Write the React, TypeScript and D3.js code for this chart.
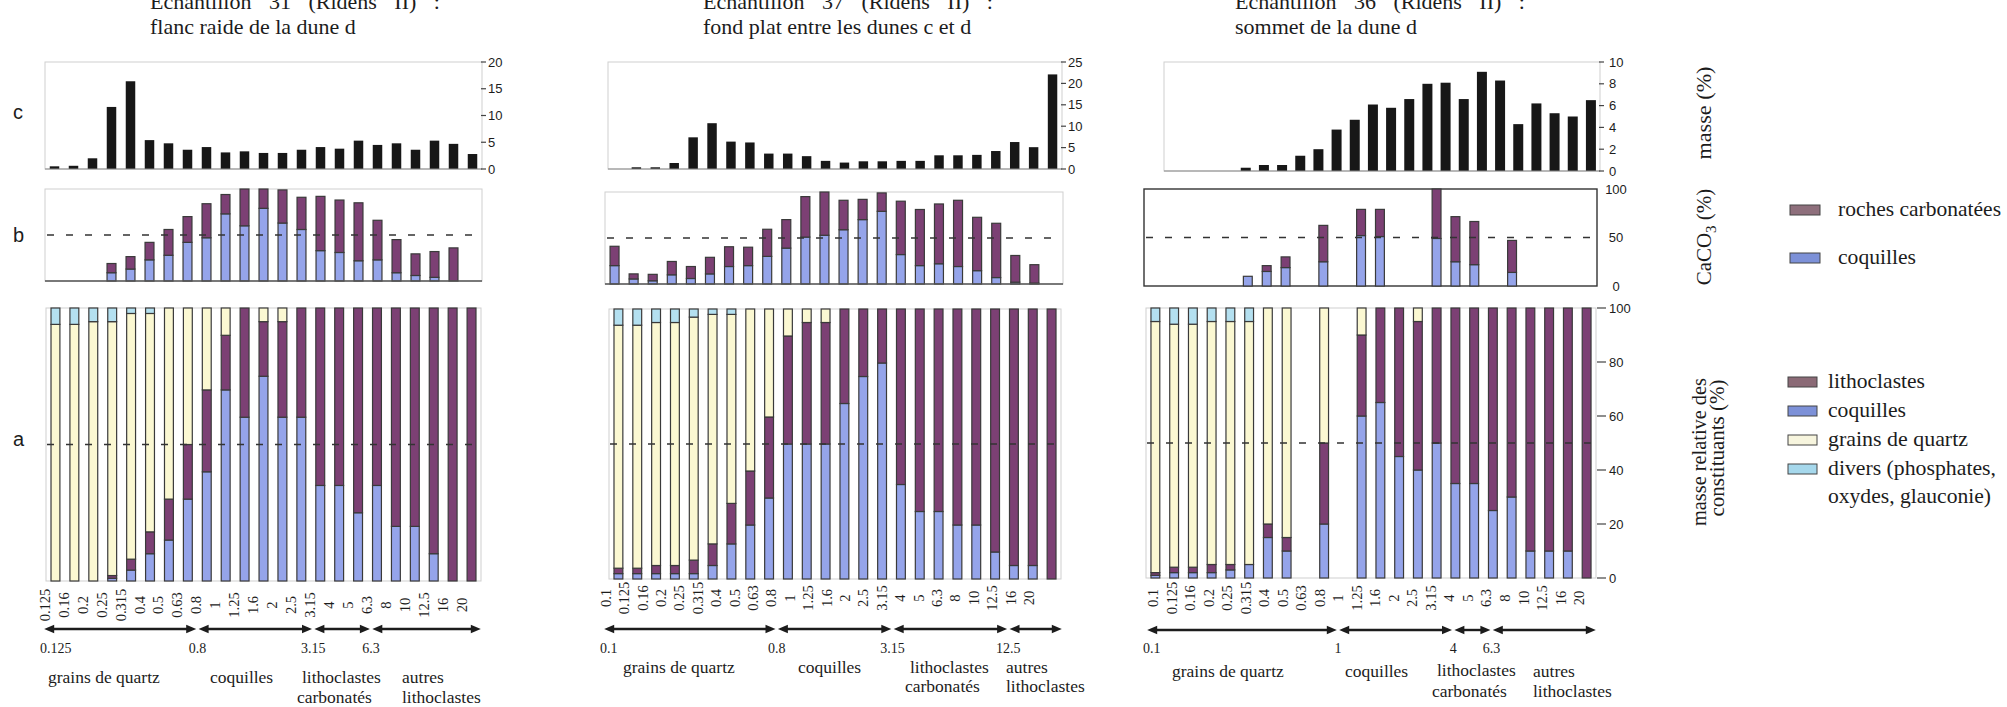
import React from "react";
import * as d3 from "d3";

// ---------------- DATA ----------------
const classes31 = ["0.125", "0.16", "0.2", "0.25", "0.315", "0.4", "0.5", "0.63", "0.8", "1", "1.25", "1.6", "2", "2.5", "3.15", "4", "5", "6.3", "8", "10", "12.5", "16", "20"];
const classes37 = ["0.1", "0.125", "0.16", "0.2", "0.25", "0.315", "0.4", "0.5", "0.63", "0.8", "1", "1.25", "1.6", "2", "2.5", "3.15", "4", "5", "6.3", "8", "10", "12.5", "16", "20"];
const classes36 = ["0.1", "0.125", "0.16", "0.2", "0.25", "0.315", "0.4", "0.5", "0.63", "0.8", "1", "1.25", "1.6", "2", "2.5", "3.15", "4", "5", "6.3", "8", "10", "12.5", "16", "20"];

// c : masse (%)
const masse31 = [0.5, 0.6, 2.0, 11.6, 16.4, 5.4, 4.8, 3.6, 4.1, 3.1, 3.3, 3.0, 3.0, 3.6, 4.1, 3.8, 5.3, 4.5, 4.8, 3.6, 5.3, 4.7, 2.8];
const masse37 = [null, 0.4, 0.4, 1.4, 7.4, 10.7, 6.4, 6.2, 3.6, 3.6, 3.0, 1.9, 1.5, 1.8, 1.8, 1.9, 1.9, 3.2, 3.2, 3.3, 4.2, 6.3, 5.1, 22.1];
const masse36 = [null, null, null, null, 0.3, 0.55, 0.55, 1.4, 2.0, 3.8, 4.7, 6.1, 5.8, 6.6, 8.0, 8.1, 6.6, 9.1, 8.3, 4.3, 6.2, 5.3, 5.0, 6.5];

// b : CaCO3 (%) — coquilles / roches carbonatées
const caco3Coquilles31 = [null, null, null, 9, 13, 23, 28, 42, 47, 73, 60, 79, 63, 56, 33, 31, 22, 23, 9, 6, 4, 0, null];
const caco3Roches31 = [null, null, null, 10, 13.5, 19, 28, 28, 37, 21, 40, 21, 36, 35, 59, 57, 63, 43, 36, 23.5, 28, 36, null];
const caco3Coquilles37 = [20, 5.5, 3.5, 10, 6, 11, 19, 20, 30, 39, 51, 53, 59, 70, 79, 32, 20, 22, 19, 14.5, 7, 2, 1, null];
const caco3Roches37 = [21, 5.5, 7, 14.5, 13, 18, 21.5, 20, 29.5, 31, 44, 47, 32, 22, 20, 58, 61, 65, 72, 58, 59, 29, 20, null];
const caco3Coquilles36 = [null, null, null, null, null, 10, 15, 19, null, 25, null, 52, 51, null, null, 49, 25, 22, null, 14, null, null, null, null];
const caco3Roches36 = [null, null, null, null, null, 0, 6, 11, null, 37.5, null, 27, 28, null, null, 51, 46.5, 44.5, null, 33, null, null, null, null];

// a : masse relative des constituants (%)
const coquilles31 = [0, 0, 0, 1, 4, 10, 15, 30, 40, 70, 60, 75, 60, 60, 35, 35, 25, 35, 20, 20, 10, 0, 0];
const lithoclastes31 = [0, 0, 0, 1, 4, 8, 15, 20, 30, 20, 40, 20, 35, 40, 65, 65, 75, 65, 80, 80, 90, 100, 100];
const quartz31 = [94, 94, 95, 93, 90, 80, 70, 50, 30, 10, 0, 5, 5, 0, 0, 0, 0, 0, 0, 0, 0, 0, 0];
const divers31 = [6, 6, 5, 5, 2, 2, 0, 0, 0, 0, 0, 0, 0, 0, 0, 0, 0, 0, 0, 0, 0, 0, 0];

const coquilles37 = [2, 2, 2, 2, 2, 5, 13, 20, 30, 50, 50, 50, 65, 75, 80, 35, 25, 25, 20, 20, 10, 5, 5, 0];
const lithoclastes37 = [2, 2, 3, 3, 5, 8, 15, 20, 30, 40, 45, 45, 35, 25, 20, 65, 75, 75, 80, 80, 90, 95, 95, 100];
const quartz37 = [90, 90, 90, 90, 90, 85, 70, 60, 40, 10, 5, 5, 0, 0, 0, 0, 0, 0, 0, 0, 0, 0, 0, 0];
const divers37 = [6, 6, 5, 5, 3, 2, 2, 0, 0, 0, 0, 0, 0, 0, 0, 0, 0, 0, 0, 0, 0, 0, 0, 0];

const coquilles36 = [1, 2, 2, 2, 3, 5, 15, 10, null, 20, null, 60, 65, 45, 40, 50, 35, 35, 25, 30, 10, 10, 10, 0];
const lithoclastes36 = [1, 2, 2, 3, 2, 0, 5, 5, null, 30, null, 30, 35, 55, 55, 50, 65, 65, 75, 70, 90, 90, 90, 100];
const quartz36 = [93, 90, 90, 90, 90, 90, 80, 85, null, 50, null, 10, 0, 0, 5, 0, 0, 0, 0, 0, 0, 0, 0, 0];
const divers36 = [5, 6, 6, 5, 5, 5, 0, 0, null, 0, null, 0, 0, 0, 0, 0, 0, 0, 0, 0, 0, 0, 0, 0];

const ticksMasse31 = [0, 5, 10, 15, 20];
const ticksMasse37 = [0, 5, 10, 15, 20, 25];
const ticksMasse36 = [0, 2, 4, 6, 8, 10];
const ticksCaCO3 = [0, 50, 100];
const ticksConstituants = [0, 20, 40, 60, 80, 100];

const groupNames = [["grains de quartz"], ["coquilles"], ["lithoclastes", "carbonatés"], ["autres", "lithoclastes"]];

const legendCaCO3Labels = ["roches carbonatées", "coquilles"];
const legendConstituantsLabels = [["lithoclastes"], ["coquilles"], ["grains de quartz"], ["divers (phosphates,", "oxydes, glauconie)"]];

// ---------------- STYLE ----------------
const SERIF = "'Liberation Serif', 'Times New Roman', serif";
const SANS = "'Liberation Sans', Arial, sans-serif";
const INK = "#1c1c1c";
const COL = {
  masse: "#171717",
  coquilles: "#95a4ea",
  lithoclastes: "#7c4074",
  quartz: "#fbf8d2",
  divers: "#b4e0f0",
  outline: "#3a3a3a",
};
const legendCaCO3Style = [
  { color: "#8e6f7c", width: 163 },
  { color: "#7d91d8", width: 78 },
];
const legendConstituantsStyle = [
  { color: "#8b6a76", widths: [97] },
  { color: "#7d91d8", widths: [78] },
  { color: "#f7f5de", widths: [140] },
  { color: "#a6d8ec", widths: [168, 163] },
];

type Box = { x0: number; x1: number; y0: number; y1: number };
type V = number | null;

interface Spec {
  title: [string, string];
  titleX: number;
  cats: string[];
  masse: V[];
  caCoq: V[];
  caRoc: V[];
  aCoq: V[];
  aLit: V[];
  aQua: V[];
  aDiv: V[];
  c: Box;
  cMax: number;
  cTicks: number[];
  cPad: number;
  cTickDx: number;
  b: Box;
  bDark: boolean;
  bTicks: number[] | null;
  a: Box;
  aTicks: number[] | null;
  labelRange: [number, number];
  labelY: number;
  arrowY: number;
  arrowX0: number;
  arrowStep: number;
  boundaries: number[];
  arrowEnd: number;
  boundaryY: number;
  groupPos: { x: number; y: number }[][];
}

const specs: Spec[] = [
  {
    title: ["Echantillon 31 (Ridens II) :", "flanc raide de la dune d"],
    titleX: 150,
    cats: classes31,
    masse: masse31,
    caCoq: caco3Coquilles31,
    caRoc: caco3Roches31,
    aCoq: coquilles31,
    aLit: lithoclastes31,
    aQua: quartz31,
    aDiv: divers31,
    c: { x0: 45, x1: 482, y0: 62, y1: 169 },
    cMax: 20,
    cTicks: ticksMasse31,
    cPad: 0.5,
    cTickDx: 6,
    b: { x0: 45, x1: 482, y0: 189, y1: 281 },
    bDark: false,
    bTicks: null,
    a: { x0: 46, x1: 481, y0: 308, y1: 581 },
    aTicks: null,
    labelRange: [45, 461.7],
    labelY: 605,
    arrowY: 629,
    arrowX0: 43,
    arrowStep: 19.3,
    boundaries: [0, 8, 14, 17],
    arrowEnd: 482,
    boundaryY: 653,
    groupPos: [
      [{ x: 48, y: 683 }],
      [{ x: 210, y: 683 }],
      [{ x: 302, y: 683 }, { x: 297, y: 703 }],
      [{ x: 402, y: 683 }, { x: 402, y: 703 }],
    ],
  },
  {
    title: ["Echantillon 37 (Ridens II) :", "fond plat entre les dunes c et d"],
    titleX: 703,
    cats: classes37,
    masse: masse37,
    caCoq: caco3Coquilles37,
    caRoc: caco3Roches37,
    aCoq: coquilles37,
    aLit: lithoclastes37,
    aQua: quartz37,
    aDiv: divers37,
    c: { x0: 608, x1: 1062, y0: 62, y1: 169 },
    cMax: 25,
    cTicks: ticksMasse37,
    cPad: 0.5,
    cTickDx: 6,
    b: { x0: 605, x1: 1063, y0: 192, y1: 284 },
    bDark: false,
    bTicks: null,
    a: { x0: 609, x1: 1061, y0: 309, y1: 579 },
    aTicks: null,
    labelRange: [606, 1029.3],
    labelY: 598,
    arrowY: 629,
    arrowX0: 603,
    arrowStep: 19.3,
    boundaries: [0, 9, 15, 21],
    arrowEnd: 1063,
    boundaryY: 653,
    groupPos: [
      [{ x: 623, y: 673 }],
      [{ x: 798, y: 673 }],
      [{ x: 910, y: 673 }, { x: 905, y: 692 }],
      [{ x: 1006, y: 673 }, { x: 1006, y: 692 }],
    ],
  },
  {
    title: ["Echantillon 36 (Ridens II) :", "sommet de la dune d"],
    titleX: 1235,
    cats: classes36,
    masse: masse36,
    caCoq: caco3Coquilles36,
    caRoc: caco3Roches36,
    aCoq: coquilles36,
    aLit: lithoclastes36,
    aQua: quartz36,
    aDiv: divers36,
    c: { x0: 1164, x1: 1600, y0: 62, y1: 171 },
    cMax: 10,
    cTicks: ticksMasse36,
    cPad: 0.45,
    cTickDx: 9,
    b: { x0: 1144, x1: 1597, y0: 189, y1: 286 },
    bDark: true,
    bTicks: ticksCaCO3,
    a: { x0: 1146, x1: 1596, y0: 308, y1: 578 },
    aTicks: ticksConstituants,
    labelRange: [1153.3, 1579.3],
    labelY: 598,
    arrowY: 630,
    arrowX0: 1146,
    arrowStep: 19.2,
    boundaries: [0, 10, 16, 18],
    arrowEnd: 1597,
    boundaryY: 653,
    groupPos: [
      [{ x: 1172, y: 677 }],
      [{ x: 1345, y: 677 }],
      [{ x: 1437, y: 676 }, { x: 1432, y: 697 }],
      [{ x: 1533, y: 677 }, { x: 1533, y: 697 }],
    ],
  },
];

// ---------------- COMPONENTS ----------------
function Arrow({ x1, x2, y }: { x1: number; x2: number; y: number }) {
  const h = 10;
  const w = 4.2;
  return (
    <g>
      <line x1={x1 + h - 1} x2={x2 - h + 1} y1={y} y2={y} stroke={INK} strokeWidth={2.4} />
      <path d={`M${x1},${y}L${x1 + h},${y - w}L${x1 + h},${y + w}Z`} fill={INK} />
      <path d={`M${x2},${y}L${x2 - h},${y - w}L${x2 - h},${y + w}Z`} fill={INK} />
    </g>
  );
}

function Sample({ s }: { s: Spec }) {
  const band = (box: Box, pad: number) =>
    d3.scaleBand<string>().domain(s.cats).range([box.x0, box.x1]).paddingInner(pad).paddingOuter(pad / 2);

  const xc = band(s.c, s.cPad);
  const yc = d3.scaleLinear().domain([0, s.cMax]).range([s.c.y1, s.c.y0]);
  const xb = band(s.b, 0.53);
  const yb = d3.scaleLinear().domain([0, 100]).range([s.b.y1, s.b.y0]);
  const xa = band(s.a, 0.53);
  const ya = d3.scaleLinear().domain([0, 100]).range([s.a.y1, s.a.y0]);
  const xl = d3.scalePoint<string>().domain(s.cats).range(s.labelRange);
  const xArrow = d3.scaleLinear().domain([0, 1]).range([s.arrowX0, s.arrowX0 + s.arrowStep]);

  const keys = ["coquilles", "lithoclastes", "quartz", "divers"];
  const colors: Record<string, string> = {
    coquilles: COL.coquilles,
    lithoclastes: COL.lithoclastes,
    quartz: COL.quartz,
    divers: COL.divers,
  };
  const rows = s.cats.map((cat, i) => ({
    cat,
    present: s.aCoq[i] != null,
    coquilles: s.aCoq[i] ?? 0,
    lithoclastes: s.aLit[i] ?? 0,
    quartz: s.aQua[i] ?? 0,
    divers: s.aDiv[i] ?? 0,
  }));
  const stacked = d3.stack<any>().keys(keys)(rows);

  const caRows = s.cats.map((cat, i) => ({
    cat,
    present: s.caCoq[i] != null,
    coquilles: s.caCoq[i] ?? 0,
    roches: s.caRoc[i] ?? 0,
  }));
  const caStacked = d3.stack<any>().keys(["coquilles", "roches"])(caRows);
  const caColors: Record<string, string> = { coquilles: COL.coquilles, roches: COL.lithoclastes };

  const bx = s.boundaries.map((i) => xArrow(i));
  const arrowPts = [...bx, s.arrowEnd];

  return (
    <g>
      <text x={s.titleX} y={9} fontFamily={SERIF} fontSize={22} fill={INK} wordSpacing={12}>
        {s.title[0]}
      </text>
      <text x={s.titleX} y={34} fontFamily={SERIF} fontSize={22} fill={INK}>
        {s.title[1]}
      </text>

      {/* c: masse */}
      <rect x={s.c.x0} y={s.c.y0} width={s.c.x1 - s.c.x0} height={s.c.y1 - s.c.y0} fill="none" stroke="#cfcfcf" strokeWidth={1} />
      {s.masse.map((v, i) =>
        v == null ? null : (
          <rect key={i} x={xc(s.cats[i])} y={yc(v)} width={xc.bandwidth()} height={yc(0) - yc(v)} fill={COL.masse} />
        )
      )}
      <line x1={s.c.x0} x2={s.c.x1} y1={s.c.y1} y2={s.c.y1} stroke="#8a8a8a" strokeWidth={1.2} />
      {s.cTicks.map((t) => (
        <g key={t}>
          <line x1={s.c.x1 - 1} x2={s.c.x1 + 4} y1={yc(t)} y2={yc(t)} stroke="#444" strokeWidth={1.2} />
          <text x={s.c.x1 + s.cTickDx} y={yc(t)} dy="0.35em" fontFamily={SANS} fontSize={13} fill={INK}>
            {t}
          </text>
        </g>
      ))}

      {/* b: CaCO3 */}
      <rect
        x={s.b.x0}
        y={s.b.y0}
        width={s.b.x1 - s.b.x0}
        height={s.b.y1 - s.b.y0}
        fill="none"
        stroke={s.bDark ? "#333" : "#cfcfcf"}
        strokeWidth={s.bDark ? 1.4 : 1}
      />
      {caStacked.map((ser) =>
        ser.map((d: any, i: number) =>
          !d.data.present || d[1] - d[0] <= 0 ? null : (
            <rect
              key={ser.key + i}
              x={xb(s.cats[i])}
              y={yb(d[1])}
              width={xb.bandwidth()}
              height={yb(d[0]) - yb(d[1])}
              fill={caColors[ser.key]}
              stroke={COL.outline}
              strokeWidth={1.2}
            />
          )
        )
      )}
      {!s.bDark && <line x1={s.b.x0} x2={s.b.x1} y1={s.b.y1} y2={s.b.y1} stroke="#555" strokeWidth={1.3} />}
      <line x1={s.b.x0 + 2} x2={s.b.x1} y1={yb(50)} y2={yb(50)} stroke="#333" strokeWidth={1.7} strokeDasharray="7 12" />
      {s.bTicks &&
        s.bTicks.map((t) => (
          <text key={t} x={s.b.x1 + 19} y={yb(t)} dy="0.35em" textAnchor="middle" fontFamily={SANS} fontSize={13} fill={INK}>
            {t}
          </text>
        ))}

      {/* a: constituants */}
      <rect x={s.a.x0} y={s.a.y0} width={s.a.x1 - s.a.x0} height={s.a.y1 - s.a.y0} fill="none" stroke="#cfcfcf" strokeWidth={1} />
      {stacked.map((ser) =>
        ser.map((d: any, i: number) =>
          !d.data.present || d[1] - d[0] <= 0 ? null : (
            <rect
              key={ser.key + i}
              x={xa(s.cats[i])}
              y={ya(d[1])}
              width={xa.bandwidth()}
              height={ya(d[0]) - ya(d[1])}
              fill={colors[ser.key]}
              stroke={COL.outline}
              strokeWidth={1.2}
            />
          )
        )
      )}
      <line x1={s.a.x0 + 1} x2={s.a.x1} y1={ya(50)} y2={ya(50)} stroke="#333" strokeWidth={1.7} strokeDasharray="7 12" />
      {s.aTicks &&
        s.aTicks.map((t) => (
          <g key={t}>
            <line x1={s.a.x1 + 1} x2={s.a.x1 + 10} y1={ya(t)} y2={ya(t)} stroke="#444" strokeWidth={1.2} />
            <text x={s.a.x1 + 13} y={ya(t)} dy="0.35em" fontFamily={SANS} fontSize={13} fill={INK}>
              {t}
            </text>
          </g>
        ))}

      {/* class labels */}
      {s.cats.map((c) => (
        <text
          key={c}
          transform={`translate(${(xl(c) as number) + 4.8},${s.labelY}) rotate(-90)`}
          textAnchor="middle"
          fontFamily={SERIF}
          fontSize={14.5}
          fill={INK}
        >
          {c}
        </text>
      ))}

      {/* arrows */}
      {arrowPts.slice(0, -1).map((x, i) => (
        <Arrow key={i} x1={x + 1.2} x2={arrowPts[i + 1] - 1.2} y={s.arrowY} />
      ))}
      {s.boundaries.map((b, i) => (
        <text
          key={b}
          x={i === 0 ? bx[i] - 3 : bx[i]}
          y={s.boundaryY}
          textAnchor={i === 0 ? "start" : "middle"}
          fontFamily={SERIF}
          fontSize={14}
          fill={INK}
        >
          {s.cats[b]}
        </text>
      ))}

      {/* group labels */}
      {groupNames.map((lines, gi) =>
        lines.map((ln, li) => (
          <text key={gi + "-" + li} x={s.groupPos[gi][li].x} y={s.groupPos[gi][li].y} fontFamily={SERIF} fontSize={17.5} fill={INK}>
            {ln}
          </text>
        ))
      )}
    </g>
  );
}

function RightSide() {
  return (
    <g>
      <text x={13} y={119} fontFamily={SANS} fontSize={20} fill={INK}>c</text>
      <text x={13} y={242} fontFamily={SANS} fontSize={20} fill={INK}>b</text>
      <text x={13} y={446} fontFamily={SANS} fontSize={20} fill={INK}>a</text>

      <text
        transform="translate(1711,113) rotate(-90)"
        textAnchor="middle"
        fontFamily={SERIF}
        fontSize={22}
        fill={INK}
        textLength={93}
        lengthAdjust="spacingAndGlyphs"
      >
        masse (%)
      </text>
      <text transform="translate(1711,237) rotate(-90)" textAnchor="middle" fontFamily={SERIF} fontSize={21} fill={INK}>
        CaCO<tspan fontSize={15} dy={5}>3</tspan>
        <tspan dy={-5}> (%)</tspan>
      </text>
      <text
        transform="translate(1706,452) rotate(-90)"
        textAnchor="middle"
        fontFamily={SERIF}
        fontSize={21}
        fill={INK}
        textLength={148}
        lengthAdjust="spacingAndGlyphs"
      >
        masse relative des
      </text>
      <text transform="translate(1724,448) rotate(-90)" textAnchor="middle" fontFamily={SERIF} fontSize={21} fill={INK}>
        constituants (%)
      </text>

      {legendCaCO3Labels.map((label, i) => (
        <g key={label}>
          <rect x={1790} y={205 + i * 48} width={30} height={10} fill={legendCaCO3Style[i].color} stroke="#444" strokeWidth={1} />
          <text
            x={1838}
            y={216 + i * 48}
            fontFamily={SERIF}
            fontSize={21.5}
            fill={INK}
            textLength={legendCaCO3Style[i].width}
            lengthAdjust="spacingAndGlyphs"
          >
            {label}
          </text>
        </g>
      ))}
      {legendConstituantsLabels.map((lines, i) => (
        <g key={lines[0]}>
          <rect x={1788} y={377 + i * 29} width={29} height={10} fill={legendConstituantsStyle[i].color} stroke="#444" strokeWidth={1} />
          {lines.map((ln, li) => (
            <text
              key={ln}
              x={1828}
              y={388 + i * 29 + li * 28}
              fontFamily={SERIF}
              fontSize={21.5}
              fill={INK}
              textLength={legendConstituantsStyle[i].widths[li]}
              lengthAdjust="spacingAndGlyphs"
            >
              {ln}
            </text>
          ))}
        </g>
      ))}
    </g>
  );
}

export default function App() {
  return (
    <svg
      width={2007}
      height={707}
      viewBox="0 0 2007 707"
      style={{ position: "absolute", left: 0, top: 0, background: "#fff" }}
    >
      <rect width={2007} height={707} fill="#fff" />
      {specs.map((s) => (
        <Sample key={s.titleX} s={s} />
      ))}
      <RightSide />
    </svg>
  );
}
